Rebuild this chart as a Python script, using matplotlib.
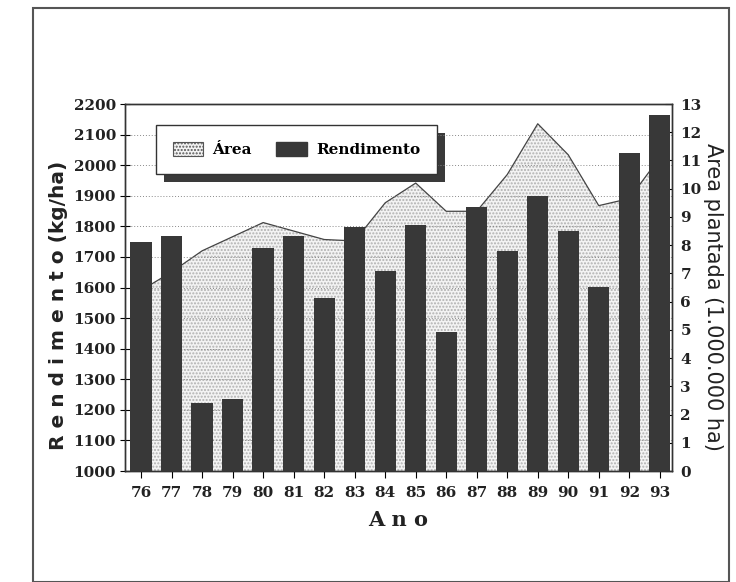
import matplotlib
matplotlib.use("Agg")
import matplotlib.pyplot as plt
from matplotlib.patches import Patch, Rectangle
import numpy as np

# Dados: rendimento (kg/ha) e área plantada (1.000.000 ha) por ano
anos = ['76', '77', '78', '79', '80', '81', '82', '83', '84',
        '85', '86', '87', '88', '89', '90', '91', '92', '93']
rendimento = [1750, 1768, 1222, 1236, 1730, 1768, 1566, 1797, 1654,
              1805, 1455, 1863, 1720, 1898, 1785, 1601, 2040, 2164]
area = [6.4, 7.05, 7.8, 8.3, 8.8, 8.5, 8.2, 8.15, 9.5,
        10.2, 9.2, 9.2, 10.5, 12.3, 11.2, 9.4, 9.65, 11.1]

serif = 'DejaVu Serif'
sans = 'DejaVu Sans'
escuro = '#383838'
texto = '#222222'

fig = plt.figure(figsize=(7.36, 5.82), dpi=100)
ax = fig.add_axes([0.1698, 0.1907, 0.7432, 0.6306])
ax2 = ax.twinx()

x = np.arange(len(anos))

# Área plantada: preenchimento pontilhado no eixo da direita
ax2.fill_between(x, area, 0, facecolor='#f3f3f3', edgecolor='#b0b0b0',
                 hatch='.....', linewidth=0, zorder=1)
ax2.plot(x, area, color='#444444', lw=0.9, zorder=2)
ax2.set_ylim(0, 13)
ax2.set_yticks(range(0, 14))

# Rendimento: barras escuras no eixo da esquerda
ax.bar(x, rendimento, width=0.7, color=escuro, zorder=3)
ax.set_ylim(1000, 2200)
ax.set_yticks(range(1000, 2201, 100))
ax.set_xlim(-0.53, 17.4)
ax.set_xticks(x)
ax.set_xticklabels(anos)
ax.yaxis.grid(True, linestyle=(0, (1, 2)), color='#8a8a8a', lw=0.7, zorder=0.5)

for a in (ax, ax2):
    for s in a.spines.values():
        s.set_color('#333333')
        s.set_linewidth(1.0)

ax.tick_params(axis='y', direction='inout', length=7, width=0.8, pad=3)
ax.tick_params(axis='x', direction='out', length=5, width=0.8, pad=6)
ax2.tick_params(axis='y', direction='in', length=5, width=0.8, pad=6)

for lab in ax.get_yticklabels() + ax.get_xticklabels() + ax2.get_yticklabels():
    lab.set_fontfamily(serif)
    lab.set_fontweight('bold')
    lab.set_fontsize(11)
    lab.set_color(texto)

ax.set_ylabel('R e n d i m e n t o (kg/ha)', fontfamily=sans, fontweight='bold',
              fontsize=14.5, color=texto)
ax.yaxis.set_label_coords(-0.104, 0.45)
ax2.set_ylabel('Area plantada (1.000.000 ha)', fontfamily=sans, fontsize=15,
               color=texto, rotation=-90, ha='center', va='center')
ax2.yaxis.set_label_coords(1.075, 0.474)
ax.set_xlabel('A n o', fontfamily=serif, fontweight='bold', fontsize=15,
              color=texto, labelpad=7)

# Legenda com sombra deslocada
handles = [Patch(facecolor='#f3f3f3', edgecolor='#555555', hatch='.....', lw=0.8),
           Patch(facecolor=escuro, edgecolor=escuro)]
leg = ax.legend(handles, ['Área', 'Rendimento'], ncol=2,
                bbox_to_anchor=(0.0567, 0.9428), loc='upper left', borderaxespad=0,
                frameon=True, fancybox=False, framealpha=1,
                edgecolor='#333333', handlelength=2.0, handleheight=1.05,
                handletextpad=0.6, borderpad=1.1, columnspacing=1.6,
                prop={'family': serif, 'weight': 'bold', 'size': 11})
leg.get_frame().set_linewidth(1.0)
leg.set_zorder(10)

fig.canvas.draw()
bb = leg.get_window_extent()
inv = fig.transFigure.inverted()
(x0, y0), (x1, y1) = inv.transform([(bb.x0 + 8, bb.y0 - 8), (bb.x1 + 8, bb.y1 - 8)])
fig.add_artist(Rectangle((x0, y0), x1 - x0, y1 - y0, transform=fig.transFigure,
                         facecolor='#3a3a3a', edgecolor='none', zorder=1))
ax2.set_zorder(0.5)
ax.set_zorder(2)
ax.patch.set_visible(False)

# Moldura em volta do gráfico
fig.add_artist(Rectangle((33 / 736, 0), (729 - 33) / 736, 1 - 8 / 582,
                         transform=fig.transFigure, fill=False,
                         edgecolor='#555555', lw=1.5))

fig.savefig('out.png', dpi=100)
